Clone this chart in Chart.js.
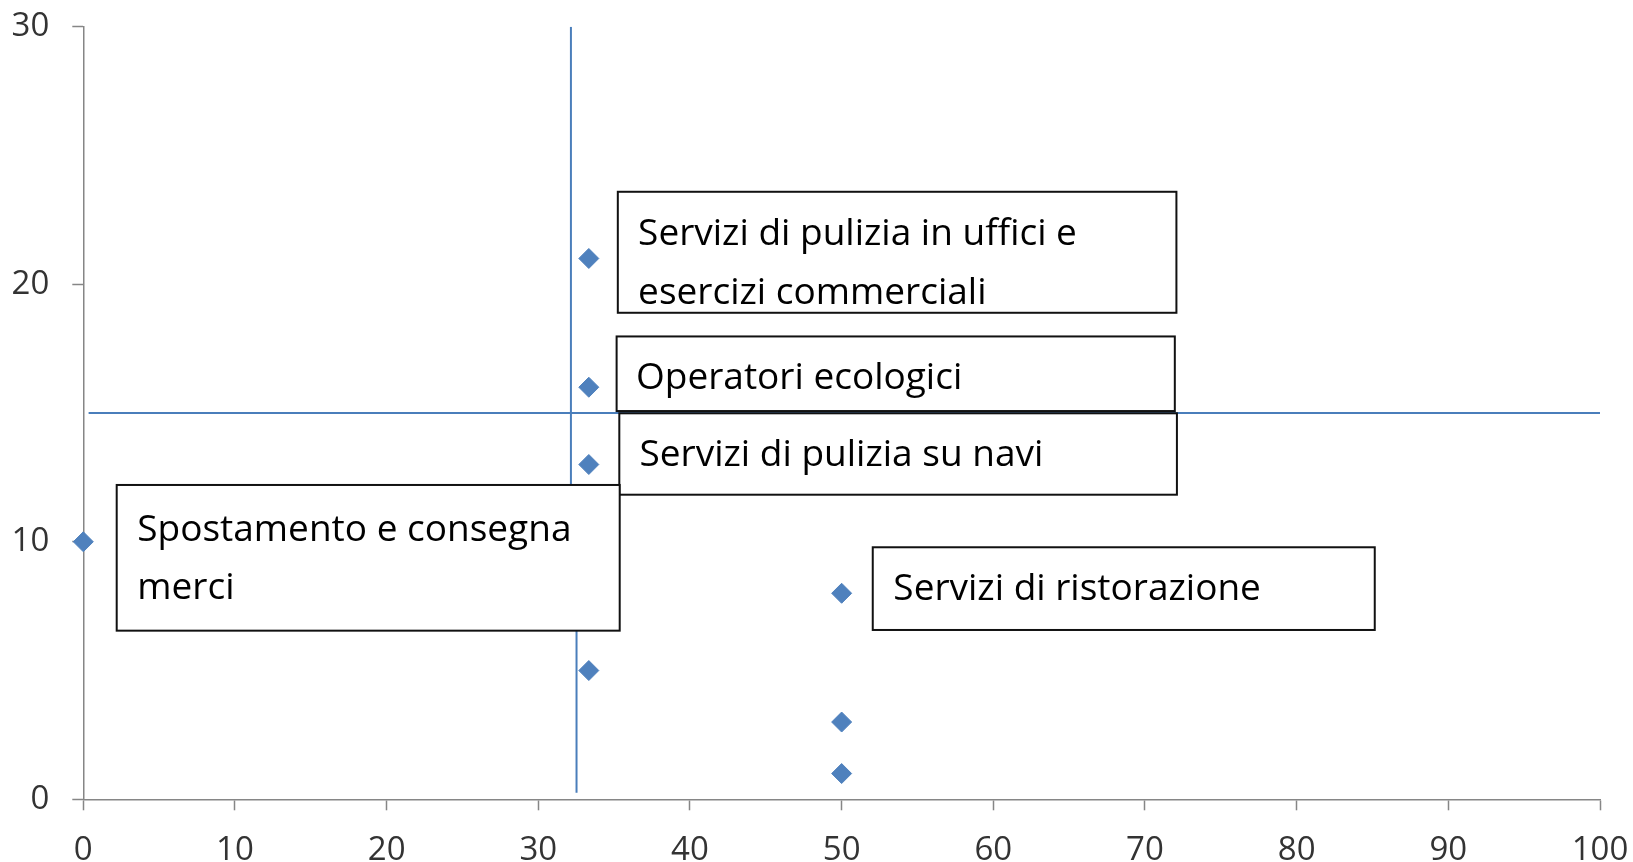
<!DOCTYPE html>
<html>
<head>
<meta charset="utf-8">
<script src="https://cdn.jsdelivr.net/npm/chart.js@4/dist/chart.umd.min.js"></script>
<style>
  html, body { margin: 0; padding: 0; background: #fff; }
  #wrap { width: 1633px; height: 862px; position: relative; }
</style>
</head>
<body>
<div id="wrap"><canvas id="chart"></canvas></div>
<script>
// dati
const xValues = [33.33, 33.33, 33.33, 0, 33.33, 50, 50, 50];
const yValues = [21, 16, 13, 10, 5, 8, 3, 1];

// linee di riferimento (quadranti)
const hLineX = [0.35, 100];
const hLineY = [15, 15];
const vTopX = [32.15, 32.15];
const vTopY = [30, 8];
const vBottomX = [32.52, 32.52];
const vBottomY = [8, 0.25];

const xTicks = [0, 10, 20, 30, 40, 50, 60, 70, 80, 90, 100];
const yTicks = [0, 10, 20, 30];

// etichette: indice del punto + righe di testo
const labelPoint = [0, 1, 2, 3, 5];
const labelText = [
  ['Servizi di pulizia in uffici e', 'esercizi commerciali'],
  ['Operatori ecologici'],
  ['Servizi di pulizia su navi'],
  ['Spostamento e consegna', 'merci'],
  ['Servizi di ristorazione']
];

// riquadri delle etichette, in pixel rispetto al punto
const labelBox = [
  { dx: 29, dy: -66.7, w: 558.6, h: 121, tx: 20.3, ty: 53.3 },
  { dx: 27.8, dy: -50.8, w: 558.2, h: 74.6, tx: 19.4, ty: 52.6 },
  { dx: 30.5, dy: -51.2, w: 557.6, h: 81.4, tx: 20.2, ty: 52.7 },
  { dx: 33.4, dy: -56.8, w: 503, h: 145.7, tx: 20.6, ty: 56 },
  { dx: 31.1, dy: -46, w: 502, h: 82.7, tx: 20.6, ty: 52.7 }
];
const lineGap = 58.5;

const toPoints = (xs, ys) => xs.map((x, i) => ({ x: x, y: ys[i] }));

const BLUE = '#4f81bd';
const LINE = '#4a7ebb';
const AXIS = '#868686';

// disegna i riquadri con il testo sopra le linee
const labelBoxes = {
  id: 'labelBoxes',
  afterDatasetsDraw(chart) {
    const ctx = chart.ctx;
    const xs = chart.scales.x, ys = chart.scales.y;
    ctx.save();
    ctx.font = '37px "Open Sans"';
    ctx.textBaseline = 'alphabetic';
    ctx.textAlign = 'left';
    labelPoint.forEach((pi, i) => {
      const b = labelBox[i];
      const px = xs.getPixelForValue(xValues[pi]);
      const py = ys.getPixelForValue(yValues[pi]);
      const L = px + b.dx, T = py + b.dy;
      ctx.fillStyle = '#fff';
      ctx.fillRect(L, T, b.w, b.h);
      ctx.strokeStyle = '#111';
      ctx.lineWidth = 2;
      ctx.strokeRect(L, T, b.w, b.h);
      ctx.fillStyle = '#000';
      labelText[i].forEach((t, k) => {
        ctx.fillText(t, L + b.tx, T + b.ty + k * lineGap);
      });
    });
    ctx.restore();
  }
};

const tickFont = { family: '"Open Sans"', size: 33 };

new Chart(document.getElementById('chart'), {
  type: 'scatter',
  data: {
    datasets: [
      {
        data: toPoints(xValues, yValues),
        pointStyle: 'rectRot',
        pointRadius: 10,
        backgroundColor: BLUE,
        borderColor: BLUE,
        borderWidth: 1,
        clip: false,
        order: 0
      },
      {
        data: toPoints(hLineX, hLineY),
        showLine: true,
        pointRadius: 0,
        borderColor: LINE,
        borderWidth: 2,
        order: 1
      },
      {
        data: toPoints(vTopX, vTopY),
        showLine: true,
        pointRadius: 0,
        borderColor: LINE,
        borderWidth: 2,
        order: 1
      },
      {
        data: toPoints(vBottomX, vBottomY),
        showLine: true,
        pointRadius: 0,
        borderColor: LINE,
        borderWidth: 2,
        order: 1
      }
    ]
  },
  options: {
    responsive: true,
    maintainAspectRatio: false,
    animation: false,
    layout: { padding: { top: 26.7, right: 33, left: 0, bottom: 0 } },
    plugins: { legend: { display: false }, tooltip: { enabled: false } },
    scales: {
      x: {
        type: 'linear',
        min: 0,
        max: 100,
        afterBuildTicks: s => { s.ticks = xTicks.map(v => ({ value: v })); },
        afterFit: s => { s.height = 62.7; s.paddingLeft = 0; s.paddingRight = 0; },
        grid: { drawOnChartArea: false, tickLength: 11, tickColor: AXIS, tickWidth: 1.5 },
        border: { color: AXIS, width: 1.5 },
        ticks: { font: tickFont, color: '#333', padding: 20, maxRotation: 0 }
      },
      y: {
        type: 'linear',
        min: 0,
        max: 30,
        afterBuildTicks: s => { s.ticks = yTicks.map(v => ({ value: v })); },
        afterFit: s => { s.width = 83.3; s.paddingTop = 0; s.paddingBottom = 0; },
        grid: { drawOnChartArea: false, tickLength: 11, tickColor: AXIS, tickWidth: 1.5 },
        border: { color: AXIS, width: 1.5 },
        ticks: { font: tickFont, color: '#333', padding: 23 }
      }
    }
  },
  plugins: [labelBoxes]
});
</script>
</body>
</html>
